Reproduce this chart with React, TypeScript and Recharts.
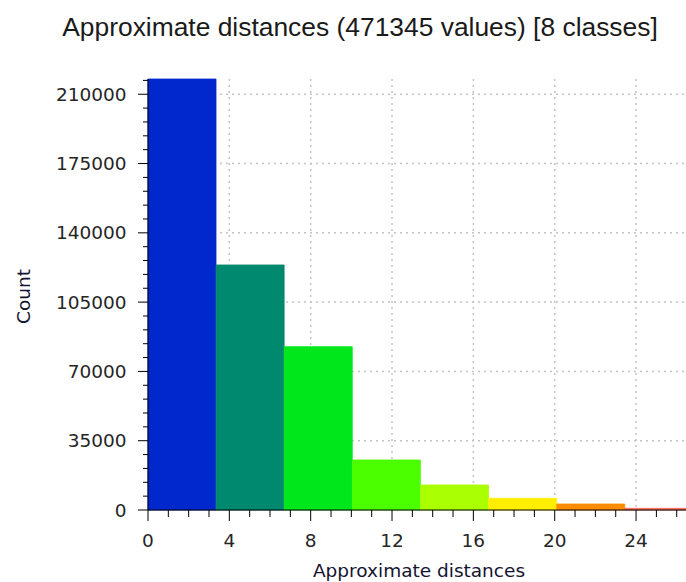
import React from 'react';
import { BarChart, Bar, Cell, XAxis, YAxis, CartesianGrid, Label } from 'recharts';

// histogram classes (approximate distances)
const binStart = [0, 3.35, 6.7, 10.05, 13.4, 16.75, 20.1, 23.45];
const binEnd = [3.35, 6.7, 10.05, 13.4, 16.75, 20.1, 23.45, 26.8];
const counts = [217700, 123770, 82500, 25260, 12630, 5900, 3030, 860];
const colors = ['#0028cd', '#00896e', '#00e81c', '#4cff00', '#aaff00', '#ffee00', '#ff8c00', '#ff6a5a'];

const xMajorTicks = [0, 4, 8, 12, 16, 20, 24];
const xAllTicks = [0, 1, 2, 3, 4, 5, 6, 7, 8, 9, 10, 11, 12, 13, 14, 15, 16, 17, 18, 19, 20, 21, 22, 23, 24, 25, 26];
const yMajorTicks = [0, 35000, 70000, 105000, 140000, 175000, 210000];
const yAllTicks: number[] = [];
for (let v = 0; v <= 217000; v += 7000) yAllTicks.push(v);

const data = counts.map((c, i) => ({
  name: `${binStart[i]}-${binEnd[i]}`,
  mid: (binStart[i] + binEnd[i]) / 2,
  count: c,
}));

const tickFont = { fontFamily: 'DejaVu Sans', fontSize: 18.5, fill: '#262626' };

const XTick = (props: any) => {
  const { x, y, payload } = props;
  const major = xMajorTicks.includes(payload.value);
  return (
    <g>
      <line x1={x} x2={x} y1={y} y2={y + (major ? 11 : 7)} stroke="#000" />
      {major && (
        <text x={x} y={y + 24} dy="0.71em" textAnchor="middle" {...tickFont}>
          {payload.value}
        </text>
      )}
    </g>
  );
};

const YTick = (props: any) => {
  const { x, y, payload } = props;
  const major = yMajorTicks.includes(payload.value);
  return (
    <g>
      <line x1={x - (major ? 10 : 5)} x2={x} y1={y} y2={y} stroke="#000" />
      {major && (
        <text x={x - 21.5} y={y} dy="0.355em" textAnchor="end" {...tickFont}>
          {payload.value}
        </text>
      )}
    </g>
  );
};

const labelFont = { fontFamily: 'DejaVu Sans', fontSize: 18.5, fill: '#141432' };

const App = () => {
  return (
    <div style={{ position: 'absolute', left: 0, top: 0, width: 686, height: 582, overflow: 'hidden', background: '#fff' }}>
      <svg width={686} height={60} style={{ position: 'absolute', left: 0, top: 0 }}>
        <text x={360} y={36} textAnchor="middle" fontFamily="Liberation Sans" fontSize={26.4} fill="#1a1a1a">
          Approximate distances (471345 values) [8 classes]
        </text>
      </svg>
      <BarChart
        width={700}
        height={582}
        data={data}
        margin={{ top: 79, right: 7, bottom: 19, left: 8 }}
        barCategoryGap={0}
        barGap={0}
      >
        <CartesianGrid
          stroke="#c4c4c4"
          strokeWidth={1.5}
          strokeDasharray="2 4"
          horizontalValues={yMajorTicks.slice(1)}
          verticalValues={xMajorTicks.slice(1)}
        />
        <XAxis xAxisId="cat" dataKey="name" type="category" hide />
        <XAxis
          dataKey="mid"
          type="number"
          domain={[0, 26.8]}
          allowDataOverflow
          ticks={xAllTicks}
          interval={0}
          tickSize={0}
          tickMargin={0}
          tickLine={false}
          tick={<XTick />}
          axisLine={{ stroke: '#000' }}
          height={53}
        >
          <Label
            content={({ viewBox }: any) => (
              <text x={viewBox.x + viewBox.width / 2 - 1.5} y={viewBox.y + 66.5} textAnchor="middle" {...labelFont}>
                Approximate distances
              </text>
            )}
          />
        </XAxis>
        <YAxis
          type="number"
          domain={[0, 'dataMax']}
          ticks={yAllTicks}
          interval={0}
          tickSize={0}
          tickMargin={0}
          tickLine={false}
          tick={<YTick />}
          axisLine={{ stroke: '#000' }}
          width={140}
        >
          <Label
            content={({ viewBox }: any) => {
              const cx = viewBox.x + 15.3;
              const cy = viewBox.y + viewBox.height / 2 + 2;
              return (
                <text
                  x={cx}
                  y={cy}
                  dy="0.355em"
                  textAnchor="middle"
                  transform={`rotate(-90, ${cx}, ${cy})`}
                  {...labelFont}
                >
                  Count
                </text>
              );
            }}
          />
        </YAxis>
        <Bar dataKey="count" xAxisId="cat" isAnimationActive={false}>
          {data.map((d, i) => (
            <Cell key={d.name} fill={colors[i]} stroke={colors[i]} strokeWidth={0.8} />
          ))}
        </Bar>
      </BarChart>
    </div>
  );
};

export default App;
